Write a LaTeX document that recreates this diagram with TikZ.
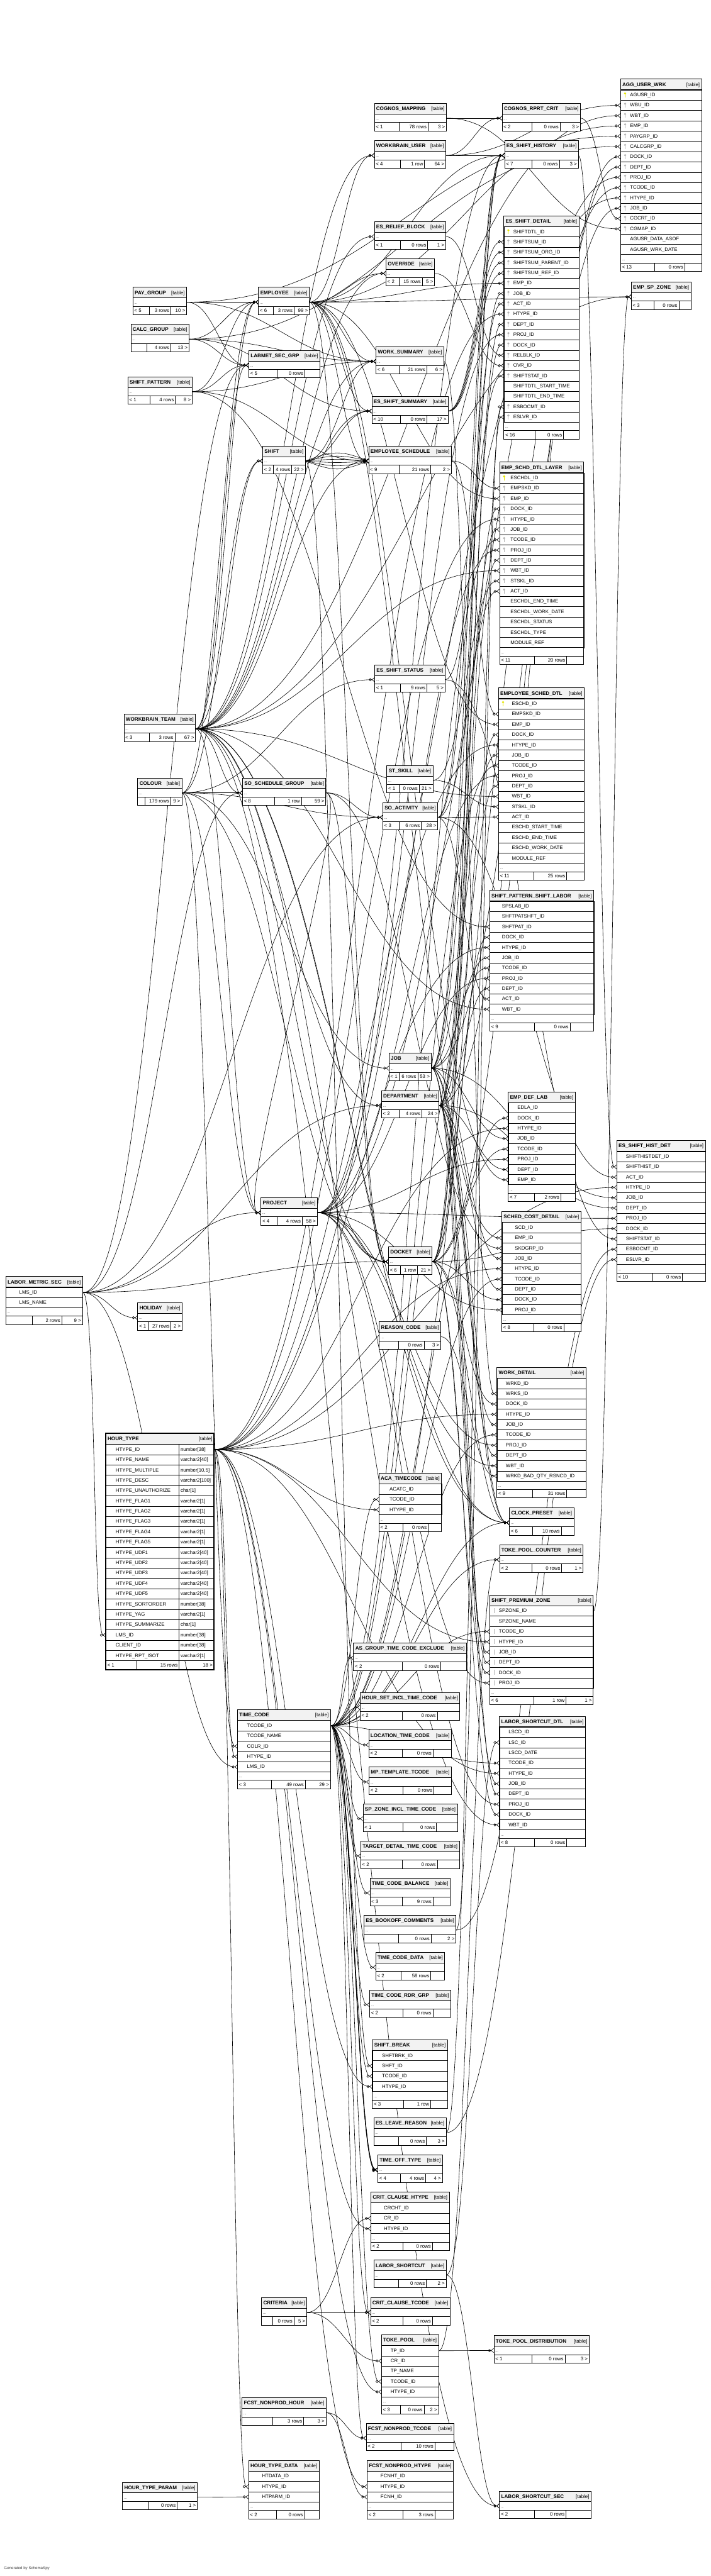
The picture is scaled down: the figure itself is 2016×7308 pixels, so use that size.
\documentclass[tikz,border=0pt]{standalone}
\usepackage{fontspec}
\setmainfont{Liberation Sans}
\usetikzlibrary{arrows.meta, positioning, calc}

\definecolor{hdrgray}{HTML}{F2F2F2}
\definecolor{keyyel}{HTML}{E6E600}
\definecolor{keygray}{HTML}{B4B4B4}

\pgfdeclarelayer{bg}
\pgfdeclarelayer{edges}
\pgfsetlayers{bg,edges,main}

% icone chiave
\newcommand{\kyp}[2]{\fill[keyyel] ({#1},{#2-4}) circle (3.3pt); \draw[keyyel, line width=1.8pt] ({#1},{#2-2}) -- ({#1},{#2+7});}
\newcommand{\kyf}[2]{\fill[keygray] ({#1},{#2-4}) circle (3.3pt); \draw[keygray, line width=1.8pt] ({#1},{#2-2}) -- ({#1},{#2+7});}
\newcommand{\kyb}[2]{\draw[keygray, line width=1.2pt] ({#1},{#2-7}) -- ({#1},{#2+7});}
\newcommand{\kyn}[2]{}

% tabella compatta: nome, x1, y1, x2, titolo
\newcommand{\ctab}[5]{%
  \filldraw[tbox, fill=white] (#2,#3) rectangle (#4,#3+78);
  \filldraw[tbox, fill=hdrgray] (#2,#3) rectangle (#4,#3+30);
  \draw[tbox] (#2,#3+54) -- (#4,#3+54);
  \node[ttl] (#1-t) at (#2+5,#3+20) {#5};
  \node[tag] (#1-g) at (#4-5,#3+20) {[table]};
  \node[cell, minimum width={(#4-#2)*1pt}] (#1) at (#2,#3+30) {};
  \node[dots] (#1-d) at (#2+4,#3+47) {...};
  \coordinate (#1-ft) at (#2,#3+54);
  \coordinate (#1-fl) at (#2,#3+71);
  \coordinate (#1-fr) at (#4,#3+71);
  \coordinate (#1-fb) at (#2,#3+78);
}

% tabella con colonne: nome, x1, y1, x2, titolo, righe, rientro, campi
\newcommand{\dtab}[8]{%
  \filldraw[tbox, fill=hdrgray] (#2,#3) rectangle (#4,#3+30);
  \node[ttl] (#1-t) at (#2+5,#3+20) {#5};
  \node[tag] (#1-g) at (#4-5,#3+20) {[table]};
  \foreach \f/\k [count=\i] in {#8}{%
    \node[rowbox, minimum width={(#4-#2)*1pt}] (#1-\f) at (#2,{#3+30+(\i-1)*29.2}) {};
    \node[fld] (#1-\f-x) at ({#2+#7},{#3+49.5+(\i-1)*29.2}) {\f};
    \csname ky\k\endcsname{#2+13}{#3+30+(\i-0.5)*29.2}%
  }
  \filldraw[tbox, fill=white] (#2,{#3+30+#6*29.2}) rectangle (#4,{#3+78+#6*29.2});
  \draw[tbox] (#2,{#3+54+#6*29.2}) -- (#4,{#3+54+#6*29.2});
  \draw[tbox] (#2,#3) rectangle (#4,{#3+78+#6*29.2});
  \node[dots] (#1-d) at (#2+4,{#3+47+#6*29.2}) {...};
  \coordinate (#1-ft) at (#2,{#3+54+#6*29.2});
  \coordinate (#1-fl) at (#2,{#3+71+#6*29.2});
  \coordinate (#1-fr) at (#4,{#3+71+#6*29.2});
  \coordinate (#1-fb) at (#2,{#3+78+#6*29.2});
}

% riga finale: nome, divisore 1, divisore 2, testi
\newcommand{\ftr}[6]{%
  \coordinate (#1-a) at (#2,0);
  \coordinate (#1-b) at (#3,0);
  \draw[tbox] (#1-a |- #1-ft) -- (#1-a |- #1-fb) (#1-b |- #1-ft) -- (#1-b |- #1-fb);
  \node[ftxt, anchor=base west, xshift=4pt] (#1-f1) at (#1-fl) {#4};
  \node[ftxt, anchor=base east, xshift=-4pt] (#1-f2) at (#1-b |- #1-fl) {#5};
  \node[ftxt, anchor=base east, xshift=-4pt] (#1-f3) at (#1-fr) {#6};
}

% relazione: padre -> figlio
\newcommand{\fk}[3][0]{%
  \draw[rel] let \p1=(#2.east), \p2=(#3.west),
    \n1={scalar(max(36,0.45*abs(\x2-\x1)))} in
    (\p1) .. controls +(\n1,#1) and +(-\n1,#1) .. (\p2);}

\begin{document}
\catcode`\_=12
\begin{tikzpicture}[x=1pt, y=-1pt,
    tbox/.style={draw=black, line width=1.4pt},
    ttl/.style={anchor=base west, inner sep=0pt, font=\fontsize{14.5}{16}\selectfont\bfseries},
    tag/.style={anchor=base east, inner sep=0pt, font=\fontsize{14}{16}\selectfont},
    fld/.style={anchor=base west, inner sep=0pt, font=\fontsize{14}{16}\selectfont},
    ftxt/.style={inner sep=0pt, font=\fontsize{14}{16}\selectfont},
    dots/.style={anchor=base west, inner sep=0pt, font=\fontsize{10}{12}\selectfont},
    cell/.style={anchor=north west, inner sep=0pt, minimum height=24pt},
    rowbox/.style={anchor=north west, inner sep=0pt, minimum height=29.2pt, draw=black, line width=1.2pt, fill=white},
    rel/.style={line width=1.1pt, -{Circle[open,length=8pt,width=8pt] Straight Barb[reversed,length=7pt,width=12pt]}}]

\useasboundingbox (0,0) rectangle (2016,7308);
\begin{pgfonlayer}{bg}
  \fill[white] (0,0) rectangle (2016,7308);
\end{pgfonlayer}

% Tabelle compatte
\ctab{cgmap}{1061.5}{293}{1266}{COGNOS_MAPPING}\ftr{cgmap}{1131.5}{1214}{< 1}{78 rows}{3 >}
\ctab{cgcrt}{1424}{293}{1646}{COGNOS_RPRT_CRIT}\ftr{cgcrt}{1509}{1588}{< 2}{0 rows}{3 >}
\ctab{wbu}{1061.5}{399}{1264}{WORKBRAIN_USER}\ftr{wbu}{1135}{1204}{< 4}{1 row}{64 >}
\ctab{eshist}{1431}{399}{1640}{ES_SHIFT_HISTORY}\ftr{eshist}{1509}{1586}{< 7}{0 rows}{3 >}
\ctab{relblk}{1061.5}{629}{1264}{ES_RELIEF_BLOCK}\ftr{relblk}{1135}{1213}{< 1}{0 rows}{1 >}
\ctab{ovr}{1094.5}{733.5}{1232}{OVERRIDE}\ftr{ovr}{1132}{1197.5}{< 2}{15 rows}{5 >}
\ctab{spzemp}{1790}{800}{1959}{EMP_SP_ZONE}\ftr{spzemp}{1854}{1925}{< 3}{0 rows}{}
\ctab{paygrp}{377}{815}{529}{PAY_GROUP}\ftr{paygrp}{423}{484}{< 5}{3 rows}{10 >}
\ctab{emp}{733}{815}{877}{EMPLOYEE}\ftr{emp}{774.5}{834}{< 6}{3 rows}{99 >}
\ctab{calcgrp}{371}{920}{536}{CALC_GROUP}\ftr{calcgrp}{417}{484}{}{4 rows}{13 >}
\ctab{wrks}{1066.5}{983}{1258.5}{WORK_SUMMARY}\ftr{wrks}{1131.5}{1210}{< 6}{21 rows}{6 >}
\ctab{labmet}{705.5}{994}{907}{LABMET_SEC_GRP}\ftr{labmet}{785}{864}{< 5}{0 rows}{}
\ctab{shftpat}{362.5}{1069}{545}{SHIFT_PATTERN}\ftr{shftpat}{426}{497.5}{< 1}{4 rows}{8 >}
\ctab{shiftsum}{1054.5}{1124}{1270.5}{ES_SHIFT_SUMMARY}\ftr{shiftsum}{1135.5}{1210}{< 10}{0 rows}{17 >}
\ctab{shift}{745}{1265.5}{865.5}{SHIFT}\ftr{shift}{774.5}{827.5}{< 2}{4 rows}{22 >}
\ctab{empskd}{1045.5}{1265.5}{1280}{EMPLOYEE_SCHEDULE}\ftr{empskd}{1131.5}{1221.5}{< 9}{21 rows}{2 >}
\ctab{shstat}{1062.5}{1886}{1262}{ES_SHIFT_STATUS}\ftr{shstat}{1135.5}{1210.5}{< 1}{9 rows}{5 >}
\ctab{wbt}{351.5}{2025.5}{554.5}{WORKBRAIN_TEAM}\ftr{wbt}{423}{496}{< 3}{3 rows}{67 >}
\ctab{stskl}{1097}{2171.5}{1227.5}{ST_SKILL}\ftr{stskl}{1131.5}{1188.5}{< 1}{0 rows}{21 >}
\ctab{colr}{390.5}{2207}{515.5}{COLOUR}\ftr{colr}{411.5}{484}{}{179 rows}{9 >}
\ctab{skdgrp}{687.5}{2207}{924}{SO_SCHEDULE_GROUP}\ftr{skdgrp}{778.5}{854.5}{< 8}{1 row}{59 >}
\ctab{act}{1085.5}{2276.5}{1241}{SO_ACTIVITY}\ftr{act}{1131.5}{1195}{< 3}{6 rows}{28 >}
\ctab{job}{1103}{2988}{1222.5}{JOB}\ftr{job}{1132}{1184.5}{< 1}{6 rows}{53 >}
\ctab{dept}{1081.5}{3094}{1245}{DEPARTMENT}\ftr{dept}{1132}{1196}{< 2}{4 rows}{24 >}
\ctab{proj}{740}{3398}{900}{PROJECT}\ftr{proj}{785}{857}{< 4}{4 rows}{58 >}
\ctab{dock}{1101.5}{3537}{1225}{DOCKET}\ftr{dock}{1135.5}{1184}{< 6}{1 row}{21 >}
\ctab{hol}{390.5}{3696}{516.5}{HOLIDAY}\ftr{hol}{422.5}{485}{< 1}{27 rows}{2 >}
\ctab{rsn}{1075.5}{3750}{1250}{REASON_CODE}\ftr{rsn}{1130.5}{1202.5}{}{0 rows}{3 >}
\ctab{clk}{1444.5}{4277.5}{1627}{CLOCK_PRESET}\ftr{clk}{1510.5}{1591.5}{< 6}{10 rows}{}
\ctab{tpc}{1416.5}{4382.5}{1653.5}{TOKE_POOL_COUNTER}\ftr{tpc}{1508.5}{1593}{< 2}{0 rows}{1 >}
\ctab{asgrp}{1002.5}{4661}{1322.5}{AS_GROUP_TIME_CODE_EXCLUDE}\ftr{asgrp}{1141}{1249.5}{< 2}{0 rows}{}
\ctab{hsinc}{1021}{4801.5}{1304}{HOUR_SET_INCL_TIME_CODE}\ftr{hsinc}{1141}{1240}{< 2}{0 rows}{}
\ctab{loctc}{1045.5}{4908}{1280}{LOCATION_TIME_CODE}\ftr{loctc}{1141}{1228}{< 2}{0 rows}{}
\ctab{mptc}{1046.5}{5013}{1280}{MP_TEMPLATE_TCODE}\ftr{mptc}{1143}{1230}{< 2}{0 rows}{}
\ctab{spzinc}{1029.5}{5117.5}{1297}{SP_ZONE_INCL_TIME_CODE}\ftr{spzinc}{1143}{1237.5}{< 1}{0 rows}{}
\ctab{tgtc}{1023}{5223}{1302.5}{TARGET_DETAIL_TIME_CODE}\ftr{tgtc}{1141}{1240}{< 2}{0 rows}{}
\ctab{tcbal}{1049}{5328}{1276}{TIME_CODE_BALANCE}\ftr{tcbal}{1141}{1228}{< 3}{9 rows}{}
\ctab{bocmt}{1032}{5433.5}{1293}{ES_BOOKOFF_COMMENTS}\ftr{bocmt}{1129.5}{1222.5}{}{0 rows}{2 >}
\ctab{tcdat}{1065.5}{5539}{1261}{TIME_CODE_DATA}\ftr{tcdat}{1138}{1221.5}{< 2}{58 rows}{}
\ctab{tcrdr}{1048}{5645}{1278.5}{TIME_CODE_RDR_GRP}\ftr{tcrdr}{1142.5}{1227.5}{< 2}{0 rows}{}
\ctab{lvr}{1060}{6008}{1265}{ES_LEAVE_REASON}\ftr{lvr}{1129.5}{1209}{}{0 rows}{3 >}
\ctab{toff}{1071.5}{6113.5}{1254.5}{TIME_OFF_TYPE}\ftr{toff}{1135.5}{1207}{< 4}{4 rows}{4 >}
\ctab{lsc}{1060}{6412}{1265}{LABOR_SHORTCUT}\ftr{lsc}{1129.5}{1209}{}{0 rows}{2 >}
\ctab{crit}{741.5}{6518}{870}{CRITERIA}\ftr{crit}{773.5}{833.5}{}{0 rows}{5 >}
\ctab{cctc}{1051}{6518}{1276}{CRIT_CLAUSE_TCODE}\ftr{cctc}{1142.5}{1226}{< 2}{0 rows}{}
\ctab{tpd}{1400.5}{6626}{1670.5}{TOKE_POOL_DISTRIBUTION}\ftr{tpd}{1508.5}{1602}{< 1}{0 rows}{3 >}
\ctab{fnh}{686.5}{6802.5}{924.5}{FCST_NONPROD_HOUR}\ftr{fnh}{773.5}{861}{}{3 rows}{3 >}
\ctab{fnt}{1038.5}{6874.5}{1286.5}{FCST_NONPROD_TCODE}\ftr{fnt}{1137}{1233}{< 2}{10 rows}{}
\ctab{htp}{347.5}{7042}{559.5}{HOUR_TYPE_PARAM}\ftr{htp}{421.5}{502.5}{}{0 rows}{1 >}
\ctab{lss}{1416}{7067}{1676}{LABOR_SHORTCUT_SEC}\ftr{lss}{1515}{1605}{< 2}{0 rows}{}

% Tabelle con colonne
\dtab{agg}{1759.5}{224.5}{1989.5}{AGG_USER_WRK}{16}{27}{AGUSR_ID/p, WBU_ID/f, WBT_ID/f, EMP_ID/f, PAYGRP_ID/f, CALCGRP_ID/f, DOCK_ID/f, DEPT_ID/f, PROJ_ID/f, TCODE_ID/f, HTYPE_ID/f, JOB_ID/f, CGCRT_ID/f, CGMAP_ID/f, AGUSR_DATA_ASOF/n, AGUSR_WRK_DATE/n}
\ftr{agg}{1857}{1941.5}{< 13}{0 rows}{}
\dtab{esd}{1428.5}{612.5}{1641.5}{ES_SHIFT_DETAIL}{19}{27}{SHIFTDTL_ID/p, SHIFTSUM_ID/f, SHIFTSUM_ORG_ID/f, SHIFTSUM_PARENT_ID/f, SHIFTSUM_REF_ID/f, EMP_ID/f, JOB_ID/f, ACT_ID/f, HTYPE_ID/f, DEPT_ID/f, PROJ_ID/f, DOCK_ID/f, RELBLK_ID/f, OVR_ID/f, SHIFTSTAT_ID/f, SHIFTDTL_START_TIME/n, SHIFTDTL_END_TIME/n, ESBOCMT_ID/f, ESLVR_ID/f}
\ftr{esd}{1518}{1598}{< 16}{0 rows}{}
\dtab{layer}{1416.5}{1311}{1655}{EMP_SCHD_DTL_LAYER}{17}{31}{ESCHDL_ID/p, EMPSKD_ID/f, EMP_ID/f, DOCK_ID/f, HTYPE_ID/f, JOB_ID/f, TCODE_ID/f, PROJ_ID/f, DEPT_ID/f, WBT_ID/f, STSKL_ID/f, ACT_ID/f, ESCHDL_END_TIME/n, ESCHDL_WORK_DATE/n, ESCHDL_STATUS/n, ESCHDL_TYPE/n, MODULE_REF/n}
\ftr{layer}{1515}{1607}{< 11}{20 rows}{}
\dtab{esdtl}{1413.5}{1951.5}{1656.5}{EMPLOYEE_SCHED_DTL}{16}{38}{ESCHD_ID/p, EMPSKD_ID/n, EMP_ID/n, DOCK_ID/n, HTYPE_ID/n, JOB_ID/n, TCODE_ID/n, PROJ_ID/n, DEPT_ID/n, WBT_ID/n, STSKL_ID/n, ACT_ID/n, ESCHD_START_TIME/n, ESCHD_END_TIME/n, ESCHD_WORK_DATE/n, MODULE_REF/n}
\ftr{esdtl}{1513.5}{1607}{< 11}{25 rows}{}
\dtab{spsl}{1388.5}{2526}{1683.5}{SHIFT_PATTERN_SHIFT_LABOR}{11}{35}{SPSLAB_ID/n, SHFTPATSHFT_ID/n, SHFTPAT_ID/n, DOCK_ID/n, HTYPE_ID/n, JOB_ID/n, TCODE_ID/n, PROJ_ID/n, DEPT_ID/n, ACT_ID/n, WBT_ID/n}
\ftr{spsl}{1515}{1616.5}{< 9}{0 rows}{}
\dtab{edl}{1441}{3097.5}{1631}{EMP_DEF_LAB}{8}{26}{EDLA_ID/n, DOCK_ID/n, HTYPE_ID/n, JOB_ID/n, TCODE_ID/n, PROJ_ID/n, DEPT_ID/n, EMP_ID/n}
\ftr{edl}{1515}{1590}{< 7}{2 rows}{}
\dtab{scd}{1423}{3437.5}{1647}{SCHED_COST_DETAIL}{9}{37}{SCD_ID/n, EMP_ID/n, SKDGRP_ID/n, JOB_ID/n, HTYPE_ID/n, TCODE_ID/n, DEPT_ID/n, DOCK_ID/n, PROJ_ID/n}
\ftr{scd}{1514}{1598.5}{< 8}{0 rows}{}
\dtab{eshd}{1749}{3236}{2000}{ES_SHIFT_HIST_DET}{11}{26}{SHIFTHISTDET_ID/n, SHIFTHIST_ID/n, ACT_ID/n, HTYPE_ID/n, JOB_ID/n, DEPT_ID/n, PROJ_ID/n, DOCK_ID/n, SHIFTSTAT_ID/n, ESBOCMT_ID/n, ESLVR_ID/n}
\ftr{eshd}{1850}{1935}{< 10}{0 rows}{}
\dtab{wrkd}{1409}{3879.5}{1661.5}{WORK_DETAIL}{10}{25}{WRKD_ID/n, WRKS_ID/n, DOCK_ID/n, HTYPE_ID/n, JOB_ID/n, TCODE_ID/n, PROJ_ID/n, DEPT_ID/n, WBT_ID/n, WRKD_BAD_QTY_RSNCD_ID/n}
\ftr{wrkd}{1509.5}{1607}{< 9}{31 rows}{}
\dtab{aca}{1074.5}{4179.5}{1252}{ACA_TIMECODE}{3}{30}{ACATC_ID/n, TCODE_ID/n, HTYPE_ID/n}
\ftr{aca}{1143}{1214.5}{< 2}{0 rows}{}
\dtab{spz}{1388.5}{4525}{1682}{SHIFT_PREMIUM_ZONE}{8}{26}{SPZONE_ID/b, SPZONE_NAME/n, TCODE_ID/b, HTYPE_ID/b, JOB_ID/b, DEPT_ID/b, DOCK_ID/b, PROJ_ID/b}
\ftr{spz}{1513}{1605}{< 6}{1 row}{1 >}
\dtab{lscd}{1416}{4869}{1660}{LABOR_SHORTCUT_DTL}{10}{26}{LSCD_ID/n, LSC_ID/n, LSCD_DATE/n, TCODE_ID/n, HTYPE_ID/n, JOB_ID/n, DEPT_ID/n, PROJ_ID/n, DOCK_ID/n, WBT_ID/n}
\ftr{lscd}{1515}{1607}{< 8}{0 rows}{}
\dtab{tc}{673.5}{4850.5}{937}{TIME_CODE}{5}{27}{TCODE_ID/n, TCODE_NAME/n, COLR_ID/n, HTYPE_ID/n, LMS_ID/n}
\ftr{tc}{770.5}{865.5}{< 3}{49 rows}{29 >}
\dtab{sbrk}{1056}{5786.5}{1269}{SHIFT_BREAK}{4}{27}{SHFTBRK_ID/n, SHFT_ID/n, TCODE_ID/n, HTYPE_ID/n}
\ftr{sbrk}{1145}{1221}{< 3}{1 row}{}
\dtab{cch}{1051.5}{6219}{1274}{CRIT_CLAUSE_HTYPE}{3}{37}{CRCHT_ID/n, CR_ID/n, HTYPE_ID/n}
\ftr{cch}{1142.5}{1226}{< 2}{0 rows}{}
\dtab{tp}{1081.5}{6623.5}{1243.5}{TOKE_POOL}{5}{26}{TP_ID/n, CR_ID/n, TP_NAME/n, TCODE_ID/n, HTYPE_ID/n}
\ftr{tp}{1135.5}{1202.5}{< 3}{0 rows}{2 >}
\dtab{lms}{16.5}{3621.5}{234}{LABOR_METRIC_SEC}{2}{38}{LMS_ID/n, LMS_NAME/n}
\ftr{lms}{92.5}{175}{}{2 rows}{9 >}
\dtab{htd}{705}{6980}{904.5}{HOUR_TYPE_DATA}{3}{38}{HTDATA_ID/n, HTYPE_ID/n, HTPARM_ID/n}
\ftr{htd}{783.5}{863.5}{< 2}{0 rows}{}
\dtab{fnht}{1041}{6980}{1285}{FCST_NONPROD_HTYPE}{3}{38}{FCNHT_ID/n, HTYPE_ID/n, FCNH_ID/n}
\ftr{fnht}{1142.5}{1233}{< 2}{3 rows}{}

% HOUR_TYPE
\filldraw[tbox, fill=hdrgray] (300,4066) rectangle (607,4097);
\node[ttl] (ht-t) at (305,4087) {HOUR_TYPE};
\node[tag] (ht-g) at (602,4087) {[table]};
\foreach \f/\tp [count=\i] in {HTYPE_ID/number[38], HTYPE_NAME/varchar2[40], HTYPE_MULTIPLE/{number[10,5]}, HTYPE_DESC/varchar2[100], HTYPE_UNAUTHORIZE/char[1], HTYPE_FLAG1/varchar2[1], HTYPE_FLAG2/varchar2[1], HTYPE_FLAG3/varchar2[1], HTYPE_FLAG4/varchar2[1], HTYPE_FLAG5/varchar2[1], HTYPE_UDF1/varchar2[40], HTYPE_UDF2/varchar2[40], HTYPE_UDF3/varchar2[40], HTYPE_UDF4/varchar2[40], HTYPE_UDF5/varchar2[40], HTYPE_SORTORDER/number[38], HTYPE_YAG/varchar2[1], HTYPE_SUMMARIZE/char[1], LMS_ID/number[38], CLIENT_ID/number[38], HTYPE_RPT_ISOT/varchar2[1]}{
  \node[rowbox, minimum width=307pt, minimum height=29.24pt] (ht-\f) at (300,{4097+(\i-1)*29.24}) {};
  \node[fld] (ht-\f-x) at (328,{4116.5+(\i-1)*29.24}) {\f};
  \node[fld] (ht-\f-y) at (512,{4116.5+(\i-1)*29.24}) {\tp};
}
\draw[tbox] (508,4097) -- (508,4737);
\draw[tbox] (387.5,4711) -- (387.5,4737);
\draw[line width=3pt] (300,4066) rectangle (607,4737);
\node[ftxt, anchor=base west] (ht-f1) at (304,4729) {< 1};
\node[ftxt, anchor=base east] (ht-f2) at (504,4729) {15 rows};
\node[ftxt, anchor=base east] (ht-f3) at (603,4729) {18 >};

\node[anchor=base west, font=\fontsize{11}{13}\selectfont, text=black!75] (gen) at (8,7290) {Generated by SchemaSpy};

% Relazioni
\begin{pgfonlayer}{edges}
\foreach \pr/\cl in {wbu/WBU_ID, wbt/WBT_ID, emp/EMP_ID, paygrp/PAYGRP_ID, calcgrp/CALCGRP_ID, dock/DOCK_ID, dept/DEPT_ID, proj/PROJ_ID, tc-TCODE_ID/TCODE_ID, ht-HTYPE_ID/HTYPE_ID, job/JOB_ID, cgcrt/CGCRT_ID, cgmap/CGMAP_ID}{\fk{\pr}{agg-\cl}}
\foreach \b/\cl in {-9/SHIFTSUM_ID, -3/SHIFTSUM_ORG_ID, 3/SHIFTSUM_PARENT_ID, 9/SHIFTSUM_REF_ID}{\fk[\b]{shiftsum}{esd-\cl}}
\foreach \pr/\cl in {emp/EMP_ID, job/JOB_ID, act/ACT_ID, ht-HTYPE_ID/HTYPE_ID, dept/DEPT_ID, proj/PROJ_ID, dock/DOCK_ID, relblk/RELBLK_ID, ovr/OVR_ID, shstat/SHIFTSTAT_ID, bocmt/ESBOCMT_ID, lvr/ESLVR_ID}{\fk{\pr}{esd-\cl}}
\foreach \tb in {layer, esdtl}{
  \foreach \pr/\cl in {empskd/EMPSKD_ID, emp/EMP_ID, dock/DOCK_ID, ht-HTYPE_ID/HTYPE_ID, job/JOB_ID, tc-TCODE_ID/TCODE_ID, proj/PROJ_ID, dept/DEPT_ID, wbt/WBT_ID, stskl/STSKL_ID, act/ACT_ID}{\fk{\pr}{\tb-\cl}}}
\foreach \pr/\cl in {shftpat/SHFTPAT_ID, dock/DOCK_ID, ht-HTYPE_ID/HTYPE_ID, job/JOB_ID, tc-TCODE_ID/TCODE_ID, proj/PROJ_ID, dept/DEPT_ID, act/ACT_ID, wbt/WBT_ID}{\fk{\pr}{spsl-\cl}}
\foreach \pr/\cl in {dock/DOCK_ID, ht-HTYPE_ID/HTYPE_ID, job/JOB_ID, tc-TCODE_ID/TCODE_ID, proj/PROJ_ID, dept/DEPT_ID, emp/EMP_ID}{\fk{\pr}{edl-\cl}}
\foreach \pr/\cl in {emp/EMP_ID, skdgrp/SKDGRP_ID, job/JOB_ID, ht-HTYPE_ID/HTYPE_ID, tc-TCODE_ID/TCODE_ID, dept/DEPT_ID, dock/DOCK_ID, proj/PROJ_ID}{\fk{\pr}{scd-\cl}}
\foreach \pr/\cl in {eshist/SHIFTHIST_ID, act/ACT_ID, ht-HTYPE_ID/HTYPE_ID, job/JOB_ID, dept/DEPT_ID, proj/PROJ_ID, dock/DOCK_ID, shstat/SHIFTSTAT_ID, bocmt/ESBOCMT_ID, lvr/ESLVR_ID}{\fk{\pr}{eshd-\cl}}
\foreach \pr/\cl in {wrks/WRKS_ID, dock/DOCK_ID, ht-HTYPE_ID/HTYPE_ID, job/JOB_ID, tc-TCODE_ID/TCODE_ID, proj/PROJ_ID, dept/DEPT_ID, wbt/WBT_ID, rsn/WRKD_BAD_QTY_RSNCD_ID}{\fk{\pr}{wrkd-\cl}}
\foreach \pr/\cl in {tc-TCODE_ID/TCODE_ID, ht-HTYPE_ID/HTYPE_ID, job/JOB_ID, dept/DEPT_ID, dock/DOCK_ID, proj/PROJ_ID}{\fk{\pr}{spz-\cl}}
\foreach \pr/\cl in {lsc/LSC_ID, tc-TCODE_ID/TCODE_ID, ht-HTYPE_ID/HTYPE_ID, job/JOB_ID, dept/DEPT_ID, proj/PROJ_ID, dock/DOCK_ID, wbt/WBT_ID}{\fk{\pr}{lscd-\cl}}
\fk{tc-TCODE_ID}{aca-TCODE_ID}
\fk{ht-HTYPE_ID}{aca-HTYPE_ID}
\fk{colr}{tc-COLR_ID}
\fk{ht-HTYPE_ID}{tc-HTYPE_ID}
\fk{lms-LMS_ID}{tc-LMS_ID}
\fk{lms-LMS_ID}{ht-LMS_ID}
\fk{shift}{sbrk-SHFT_ID}
\fk{tc-TCODE_ID}{sbrk-TCODE_ID}
\fk{ht-HTYPE_ID}{sbrk-HTYPE_ID}
\fk{crit}{cch-CR_ID}
\fk{ht-HTYPE_ID}{cch-HTYPE_ID}
\fk{crit}{tp-CR_ID}
\fk{tc-TCODE_ID}{tp-TCODE_ID}
\fk{ht-HTYPE_ID}{tp-HTYPE_ID}
\fk{ht-HTYPE_ID}{htd-HTYPE_ID}
\fk{htp}{htd-HTPARM_ID}
\fk{ht-HTYPE_ID}{fnht-HTYPE_ID}
\fk{fnh}{fnht-FCNH_ID}
\foreach \pr/\cl in {cgmap/cgcrt, wbu/cgcrt, emp/wbu, wbt/wbu, wbu/eshist, emp/eshist, job/eshist, dept/eshist, dock/eshist, proj/eshist, act/eshist, wbt/relblk, emp/ovr, wbt/ovr, spz-SPZONE_ID/spzemp, emp/spzemp, wbt/spzemp, paygrp/emp, calcgrp/emp, shftpat/emp, wbt/emp, colr/emp, emp/wrks, paygrp/wrks, calcgrp/wrks, shift/wrks, wbt/wrks, shftpat/wrks, paygrp/labmet, calcgrp/labmet, lms-LMS_ID/labmet, wbt/labmet, shftpat/labmet, emp/shiftsum, wbt/shiftsum, shift/shiftsum, calcgrp/shiftsum, colr/shift, wbt/shift, shftpat/empskd, emp/empskd, wbt/empskd, wbt/skdgrp, colr/skdgrp, lms-LMS_ID/skdgrp, colr/act, skdgrp/act, lms-LMS_ID/act, colr/shstat, colr/job, wbt/dept, lms-LMS_ID/dept, wbt/proj, colr/proj, lms-LMS_ID/proj, skdgrp/proj, wbt/dock, colr/dock, lms-LMS_ID/dock, proj/dock, skdgrp/dock, emp/dock, lms-LMS_ID/hol, job/clk, dept/clk, dock/clk, proj/clk, tc-TCODE_ID/clk, wbt/clk, tp-TP_ID/tpc, tc-TCODE_ID/tpc, tp-TP_ID/tpd, tc-TCODE_ID/asgrp, tc-TCODE_ID/hsinc, tc-TCODE_ID/loctc, tc-TCODE_ID/mptc, tc-TCODE_ID/spzinc, tc-TCODE_ID/tgtc, tc-TCODE_ID/tcbal, tc-TCODE_ID/tcdat, tc-TCODE_ID/tcrdr, crit/cctc, tc-TCODE_ID/cctc, fnh/fnt, tc-TCODE_ID/fnt, lsc/lss, wbt/lss}{\fk{\pr}{\cl}}
\foreach \b in {-30,-18,-6,6,18,30}{\fk[\b]{shift}{empskd}}
\foreach \b in {-12,-4,4,12}{\fk[\b]{tc-TCODE_ID}{toff}}
\end{pgfonlayer}
\end{tikzpicture}
\end{document}
